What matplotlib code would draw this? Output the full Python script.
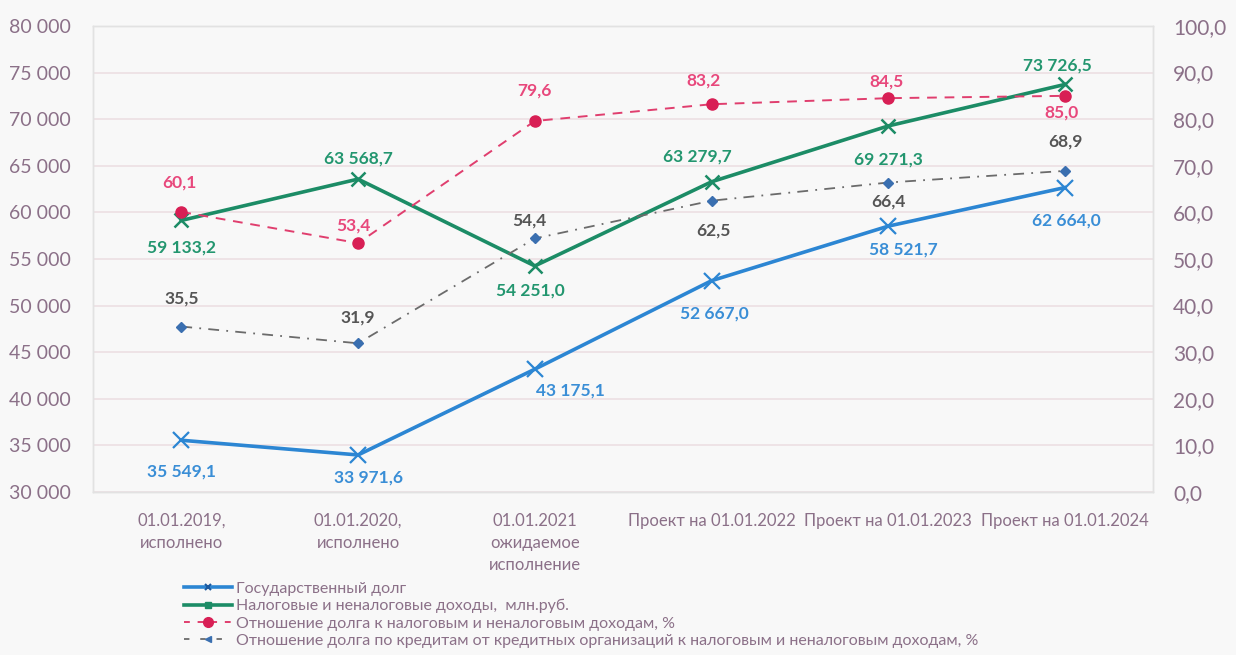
import matplotlib.pyplot as plt
import numpy as np

plt.rcParams['font.family'] = ['Lato', 'Open Sans', 'DejaVu Sans']

categories = ["01.01.2019,\nисполнено", "01.01.2020,\nисполнено",
              "01.01.2021\nожидаемое\nисполнение",
              "Проект на 01.01.2022", "Проект на 01.01.2023", "Проект на 01.01.2024"]
debt = [35549.1, 33971.6, 43175.1, 52667.0, 58521.7, 62664.0]
revenue = [59133.2, 63568.7, 54251.0, 63279.7, 69271.3, 73726.5]
debt_ratio = [60.1, 53.4, 79.6, 83.2, 84.5, 85.0]
credit_ratio = [35.5, 31.9, 54.4, 62.5, 66.4, 68.9]

labels = ["Государственный долг",
          "Налоговые и неналоговые доходы,  млн.руб.",
          "Отношение долга к налоговым и неналоговым доходам, %",
          "Отношение долга по кредитам от кредитных организаций к налоговым и неналоговым доходам, %"]

# label offsets in pixels (dx, dy), y up
debt_off = [(0, -31), (10, -23), (36, -21), (3, -33), (15, -23), (1, -33)]
rev_off = [(0, -27), (0, 21), (-4, -25), (-14, 25), (0, -34), (-8, 19)]
ratio_off = [(-2, 29), (-5, 18), (0, 30), (-8, 24), (-2, 17), (-4, -17)]
credit_off = [(0, 28), (0, 26), (-5, 18), (2, -30), (0, -19), (0, 29)]

BLUE = '#2c86d3'
GREEN = '#1c8c66'
PINK = '#e03e6e'
GRAY = '#6b6b6b'
TICK = '#8b7088'

def fmt_thousands(v):
    return f"{v:,.1f}".replace(",", " ").replace(".", ",")

fig = plt.figure(figsize=(12.36, 6.55), dpi=100, facecolor='#f8f8f8')
ax = fig.add_axes([0.0752, 0.2489, 0.858, 0.7115])
ax.set_facecolor('#f8f8f8')
ax2 = ax.twinx()

x = np.arange(len(categories))

l1, = ax.plot(x, debt, color=BLUE, lw=2.6, marker='x', ms=11, mew=1.6, zorder=4)
l2, = ax.plot(x, revenue, color=GREEN, lw=2.6, marker='x', ms=10, mew=1.8, zorder=4)
l3, = ax2.plot(x, debt_ratio, color=PINK, lw=1.4, ls=(0, (5, 4)), marker='o', ms=8,
               mfc='#d81f55', mec='#d81f55', zorder=5)
l4, = ax2.plot(x, credit_ratio, color=GRAY, lw=1.3, ls=(0, (6, 4, 1, 4)), marker='D', ms=5,
               mfc='#3a6fb0', mec='#3a6fb0', zorder=5)

def put(a, xs, ys, offs, texts, color):
    for xi, v, (dx, dy), t in zip(xs, ys, offs, texts):
        a.annotate(t, (xi, v), xytext=(dx, dy), textcoords='offset pixels',
                   ha='center', va='center', color=color, fontsize=12.5, fontweight='bold')

put(ax, x, debt, debt_off, [fmt_thousands(v) for v in debt], '#3a8ed6')
put(ax, x, revenue, rev_off, [fmt_thousands(v) for v in revenue], '#23966f')
put(ax2, x, debt_ratio, ratio_off, [f"{v:.1f}".replace(".", ",") for v in debt_ratio], '#e8487c')
put(ax2, x, credit_ratio, credit_off, [f"{v:.1f}".replace(".", ",") for v in credit_ratio], '#555555')

ax.set_xlim(-0.5, len(categories) - 0.5)
ax.set_ylim(30000, 80000)
ax2.set_ylim(0, 100)
left_ticks = np.arange(30000, 80001, 5000)
right_ticks = np.arange(0, 101, 10)
ax.set_yticks(left_ticks)
ax.set_yticklabels([f"{int(t):,}".replace(",", " ") for t in left_ticks])
ax2.set_yticks(right_ticks)
ax2.set_yticklabels([f"{t:.1f}".replace(".", ",") for t in right_ticks])
ax.set_xticks(x)
ax.set_xticklabels(categories, fontsize=12, color=TICK, linespacing=1.45)

ax.tick_params(axis='y', length=0, pad=16, labelsize=14, labelcolor=TICK)
ax2.tick_params(axis='y', length=0, pad=14, labelsize=15, labelcolor=TICK)
ax.tick_params(axis='x', length=0, pad=15)

ax.grid(axis='y', color='#ecdfe3', lw=1.2)
ax.set_axisbelow(True)
for a in (ax, ax2):
    for sp in a.spines.values():
        sp.set_color('#e2e2e2')
        sp.set_linewidth(1)

l1_leg = plt.Line2D([], [], color=BLUE, lw=2.6, marker='x', ms=5, mew=1.5, mec='#1c5aa0')
l2_leg = plt.Line2D([], [], color=GREEN, lw=2.6, marker='s', ms=4)
l3_leg = plt.Line2D([], [], color=PINK, lw=1.4, ls=(0, (3, 4)), marker='o', ms=7,
                    mfc='#d81f55', mec='#d81f55')
l4_leg = plt.Line2D([], [], color=GRAY, lw=1.3, ls=(0, (3, 6)), marker='<', ms=5,
                    mfc='#3a6fb0', mec='#3a6fb0')
fig.legend([l1_leg, l2_leg, l3_leg, l4_leg], labels, loc='upper left',
           bbox_to_anchor=(0.144, 0.122), frameon=False, fontsize=11.5, labelcolor=TICK,
           handlelength=3.0, handletextpad=0.25, labelspacing=0.2, borderaxespad=0)

fig.savefig('out.png', dpi=100, facecolor=fig.get_facecolor())
